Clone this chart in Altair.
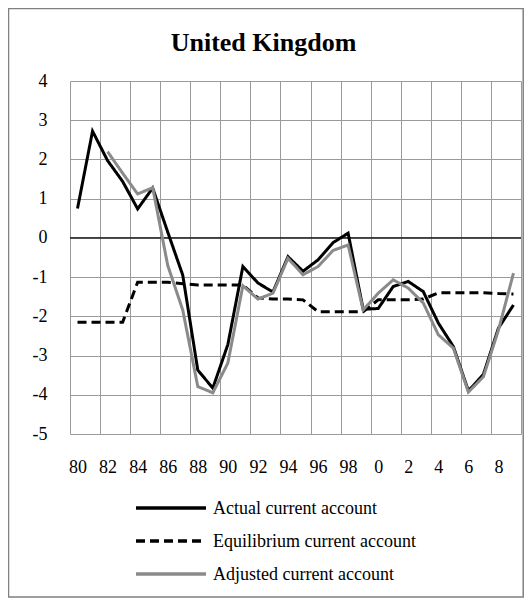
import altair as alt
import pandas as pd

years = list(range(1980, 2010))
actual = [0.75, 2.72, 1.97, 1.44, 0.74, 1.27, 0.15, -0.95, -3.37, -3.83,
          -2.72, -0.73, -1.15, -1.38, -0.48, -0.85, -0.56, -0.12, 0.12, -1.82,
          -1.8, -1.24, -1.11, -1.37, -2.17, -2.77, -3.9, -3.48, -2.3, -1.71]
equilibrium = [-2.15, -2.15, -2.15, -2.15, -1.13, -1.13, -1.13, -1.17, -1.2, -1.2,
               -1.2, -1.2, -1.53, -1.56, -1.56, -1.58, -1.88, -1.88, -1.88, -1.88,
               -1.58, -1.58, -1.58, -1.56, -1.4, -1.4, -1.4, -1.4, -1.42, -1.43]
adjusted = [None, None, 2.2, 1.65, 1.12, 1.28, -0.7, -1.84, -3.79, -3.95,
            -3.19, -1.22, -1.56, -1.41, -0.52, -0.94, -0.73, -0.32, -0.18, -1.84,
            -1.41, -1.07, -1.28, -1.66, -2.47, -2.81, -3.93, -3.54, -2.35, -0.9]

series_names = ["Actual current account", "Equilibrium current account", "Adjusted current account"]
series_colors = ["#000000", "#000000", "#8a8a8a"]
series_dashes = [[1, 0], [9, 5], [1, 0]]
y_ticks = list(range(-5, 5))
x_grid = [1979.5 + 2 * i for i in range(16)]
title_text = "United Kingdom"

rows = []
for name, vals in zip(series_names, [actual, equilibrium, adjusted]):
    for yr, v in zip(years, vals):
        if v is not None:
            rows.append({"year": yr, "value": v, "series": name})
df = pd.DataFrame(rows)

FONT = "Liberation Serif"
W, H = 451, 353
GRID = "#9a9a9a"

y_scale = alt.Scale(domain=[-5, 4], nice=False, zero=False)
y_axis = alt.Axis(
    values=y_ticks, title=None, domain=False, ticks=False, grid=True,
    gridColor=GRID, gridWidth=1,
    labelExpr="'' + datum.value",
    labelPadding=23, labelFont=FONT, labelFontSize=18, labelColor="black",
    labelFlush=False, labelOverlap=False,
)

x_enc = alt.X(
    "year:Q",
    scale=alt.Scale(domain=[1979.5, 2009.5], nice=False, zero=False),
    axis=alt.Axis(
        values=x_grid, title=None, domain=False, ticks=False, grid=True,
        gridColor=GRID, gridWidth=1,
        labelExpr="datum.value > 2009 ? '' : '' + (round(datum.value + 0.5) % 100)",
        labelOffset=7.5, labelPadding=24, labelFont=FONT, labelFontSize=18,
        labelColor="black", labelFlush=False, labelOverlap=False,
    ),
)
y_enc = alt.Y("value:Q", scale=y_scale, axis=y_axis)

lines = alt.Chart(df).mark_line(strokeWidth=3, strokeJoin="miter").encode(
    x=x_enc,
    y=y_enc,
    color=alt.Color("series:N", scale=alt.Scale(domain=series_names, range=series_colors), legend=None),
    strokeDash=alt.StrokeDash("series:N", scale=alt.Scale(domain=series_names, range=series_dashes), legend=None),
    order=alt.Order("year:Q"),
)

zero_rule = alt.Chart(alt.Data(values=[{}])).mark_rule(color="black", strokeWidth=1.2).encode(
    y=alt.datum(0, scale=y_scale, axis=y_axis)
)

border = alt.Chart(alt.Data(values=[{}])).mark_rect(
    fill=None, stroke="#808080", strokeWidth=1.5, clip=False
).encode(
    x=alt.value(-61.5), x2=alt.value(W + 2.2),
    y=alt.value(-72.5), y2=alt.value(H + 163),
)

# legend (drawn below the plot, as in the reference)
LEG_X0, LEG_X1, LEG_TX, LEG_Y0, LEG_DY = 66, 136, 143, 427, 33
legend_layers = []
for i, (name, col, dash) in enumerate(zip(series_names, series_colors, series_dashes)):
    ly = LEG_Y0 + i * LEG_DY
    sym = alt.Chart(alt.Data(values=[{"series": name}])).mark_rule(
        color=col, strokeWidth=3.5, strokeDash=dash, clip=False
    ).encode(x=alt.value(LEG_X0), x2=alt.value(LEG_X1), y=alt.value(ly))
    lab = alt.Chart(alt.Data(values=[{"series": name}])).mark_text(
        align="left", baseline="middle", font=FONT, fontSize=18, color="black", clip=False
    ).encode(x=alt.value(LEG_TX), y=alt.value(ly + 1), text="series:N")
    legend_layers += [sym, lab]

chart = alt.layer(border, zero_rule, lines, *legend_layers).properties(
    width=W, height=H,
    title=alt.TitleParams(title_text, font=FONT, fontSize=26, fontWeight="bold",
                          color="black", anchor="middle", dx=-32, baseline="alphabetic", offset=-69),
    padding={"left": 62, "top": 73, "right": 3, "bottom": 164},
    autosize=alt.AutoSizeParams(type="none"),
).configure_view(stroke=None).configure(background="white")

chart.save("out.html", embed_options={"renderer": "svg", "actions": False})
